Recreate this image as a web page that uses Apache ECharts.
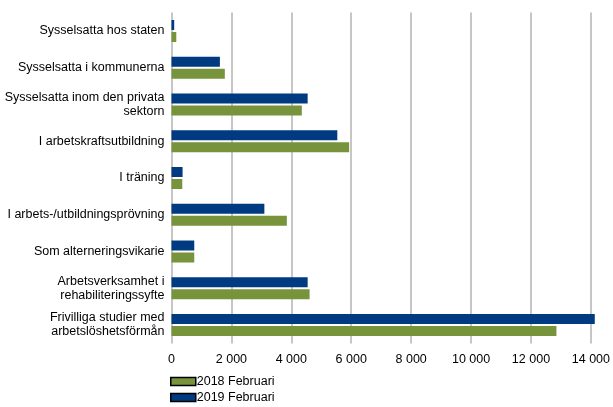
<!DOCTYPE html>
<html>
<head>
<meta charset="utf-8">
<script src="https://cdn.jsdelivr.net/npm/echarts@6/dist/echarts.min.js"></script>
<style>
html,body{margin:0;padding:0;background:#fff;}
#c{width:613px;height:407px;}
</style>
</head>
<body>
<div id="c"></div>
<script>
const categories = [
  'Sysselsatta hos staten',
  'Sysselsatta i kommunerna',
  'Sysselsatta inom den privata\nsektorn',
  'I arbetskraftsutbildning',
  'I träning',
  'I arbets-/utbildningsprövning',
  'Som alterneringsvikarie',
  'Arbetsverksamhet i\nrehabiliteringssyfte',
  'Frivilliga studier med\narbetslöshetsförmån'
];
const seriesNames = ['2018 Februari', '2019 Februari'];
const values2018 = [160, 1780, 4350, 5930, 360, 3850, 760, 4610, 12850];
const values2019 = [90, 1615, 4545, 5535, 370, 3100, 760, 4545, 14130];
const xTicks = [0, 2000, 4000, 6000, 8000, 10000, 12000, 14000];

const chart = echarts.init(document.getElementById('c'));
const fmt = v => String(v).replace(/\B(?=(\d{3})+(?!\d))/g, ' ');
chart.setOption({
  animation: false,
  textStyle: { fontFamily: 'Liberation Sans, Arial, sans-serif' },
  grid: { left: 171.5, right: 16.5, top: 12.6, bottom: 63.6 },
  legend: {
    data: seriesNames,
    orient: 'vertical',
    left: 170, top: 375,
    padding: 0,
    itemWidth: 25, itemHeight: 8, itemGap: 3,
    icon: 'rect',
    itemStyle: { borderColor: '#000', borderWidth: 1.5 },
    textStyle: { fontSize: 12.5, color: '#000', padding: [0, 0, 0, -4] }
  },
  xAxis: {
    type: 'value',
    min: xTicks[0], max: xTicks[xTicks.length - 1], interval: 2000,
    axisLine: { show: false },
    axisTick: { show: false },
    axisLabel: { fontSize: 12.5, color: '#000', margin: 10, formatter: fmt },
    splitLine: { show: true, lineStyle: { color: '#c6c6c6', width: 2 } }
  },
  yAxis: {
    type: 'category',
    inverse: true,
    data: categories,
    axisLine: { show: false },
    axisTick: { show: false },
    axisLabel: { fontSize: 12.5, color: '#000', margin: 7, lineHeight: 14, align: 'right' }
  },
  series: [
    { name: seriesNames[1], type: 'bar', data: values2019, barWidth: 10, barGap: '20%', clip: false,
      itemStyle: { color: '#003a80' } },
    { name: seriesNames[0], type: 'bar', data: values2018, barWidth: 10, barGap: '20%', clip: false,
      itemStyle: { color: '#77933c' } }
  ]
});
</script>
</body>
</html>
